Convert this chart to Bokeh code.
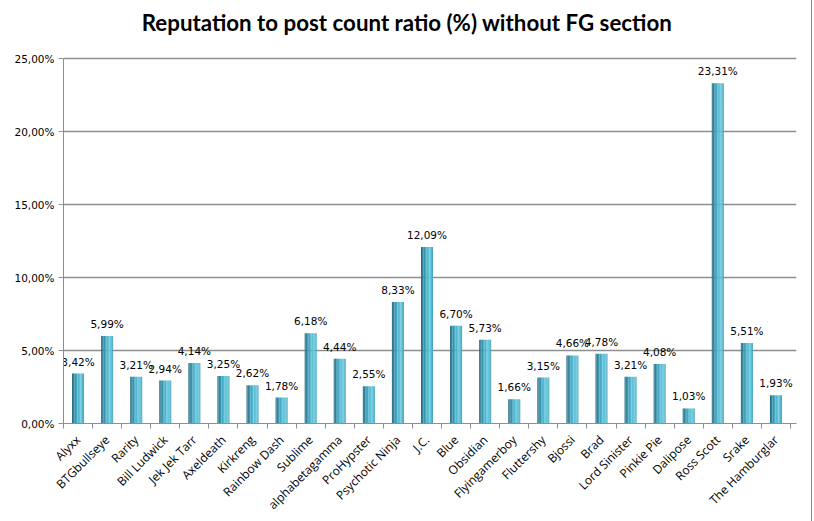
import numpy as np
from bokeh.plotting import figure
from bokeh.models import FixedTicker, Range1d, ColumnDataSource, Label
from bokeh.core.properties import value
from bokeh.embed import file_html
from bokeh.resources import INLINE

names = ["Alyxx", "BTGbullseye", "Rarity", "Bill Ludwick", "Jek Jek Tarr", "Axeldeath",
         "Kirkreng", "Rainbow Dash", "Sublime", "alphabetagamma", "ProHypster",
         "Psychotic Ninja", "J.C.", "Blue", "Obsidian", "Flyingamerboy", "Fluttershy",
         "Bjossi", "Brad", "Lord Sinister", "Pinkie Pie", "Dalipose", "Ross Scott",
         "Srake", "The Hamburglar"]
ratios = [3.42, 5.99, 3.21, 2.94, 4.14, 3.25, 2.62, 1.78, 6.18, 4.44, 2.55, 8.33,
          12.09, 6.70, 5.73, 1.66, 3.15, 4.66, 4.78, 3.21, 4.08, 1.03, 23.31, 5.51, 1.93]
y_ticks = [0, 5, 10, 15, 20, 25]
y_tick_labels = ["0,00%", "5,00%", "10,00%", "15,00%", "20,00%", "25,00%"]

title_text = "Reputation to post count ratio (%) without FG section"

n = len(names)
idx = np.arange(n)
labels = [("%.2f" % v).replace(".", ",") + "%" for v in ratios]

# 14.6 px per percentage point; the frame extends 58 px above the 25 % line to hold the title
y_top = y_ticks[-1] + 58 / 14.6
p = figure(width=812, height=521, output_backend="svg", toolbar_location=None,
           x_range=Range1d(-0.5, n - 0.5 + 0.206), y_range=Range1d(0, y_top),
           min_border_left=63, min_border_right=16, min_border_top=0, min_border_bottom=98)
p.styles = {"border-right": "1px solid #8c8c8c"}

title = Label(x=343.5, y=401, x_units="screen", y_units="screen", text=title_text,
              text_font="Lato", text_font_style="bold", text_font_size="22.3px",
              text_color="black", text_align="center", text_baseline="middle")
p.add_layout(title)

p.outline_line_color = None
p.background_fill_color = "white"
p.border_fill_color = "white"

# gridlines
p.xgrid.grid_line_color = None
p.ygrid.ticker = FixedTicker(ticks=y_ticks)
p.ygrid.grid_line_color = "#8e8e8e"
p.ygrid.grid_line_width = 1.5

# y axis
p.yaxis.ticker = FixedTicker(ticks=y_ticks)
p.yaxis.bounds = (y_ticks[0], y_ticks[-1])
p.yaxis.major_label_overrides = {t: l for t, l in zip(y_ticks, y_tick_labels)}
p.yaxis.axis_line_color = "#8e8e8e"
p.yaxis.major_tick_line_color = "#8e8e8e"
p.yaxis.major_tick_in = 0
p.yaxis.major_tick_out = 5
p.yaxis.minor_tick_line_color = None
p.yaxis.major_label_text_font = "DejaVu Sans"
p.yaxis.major_label_text_font_size = "10.5px"
p.yaxis.major_label_text_color = "black"
p.yaxis.major_label_standoff = 4

# x axis
p.xaxis.ticker = FixedTicker(ticks=list(idx), minor_ticks=[i - 0.5 for i in range(n + 1)])
p.xaxis.major_label_overrides = {int(i): nm for i, nm in zip(idx, names)}
p.xaxis.axis_line_color = "#8e8e8e"
p.xaxis.major_tick_line_color = None
p.xaxis.minor_tick_line_color = "#8e8e8e"
p.xaxis.minor_tick_in = 0
p.xaxis.minor_tick_out = 5
p.xaxis.major_label_orientation = np.pi / 4
p.xaxis.major_label_text_font = "Open Sans"
p.xaxis.major_label_text_font_size = "12px"
p.xaxis.major_label_text_color = "black"
p.xaxis.major_label_standoff = 8

# bars as cylinder-like strips (12 px wide bars, 29.08 px per category)
px = 1 / 29.08
strip_colors = ["#2b6f84", "#32829a", "#3b95ae", "#46a8c1", "#52b8d0", "#5ec2da", "#62c6dd", "#57b9d1", "#4aa7bf"]
strip_w = [1, 1.5, 1.5, 1.5, 1.5, 1.5, 1.5, 1, 1]
left = -6
for c, w in zip(strip_colors, strip_w):
    center = (left + w / 2) * px
    src = ColumnDataSource(dict(x=idx + center, top=ratios))
    p.vbar(x="x", top="top", bottom=0, width=w * px * 1.05, source=src,
           fill_color=c, line_color=None)
    left += w

p.text(x=idx, y=ratios, text=labels, y_offset=-6, text_align="center",
       text_baseline="bottom", text_font=value("DejaVu Sans"), text_font_size="10.5px",
       text_color="black")

open("out.html", "w").write(file_html(p, INLINE))
